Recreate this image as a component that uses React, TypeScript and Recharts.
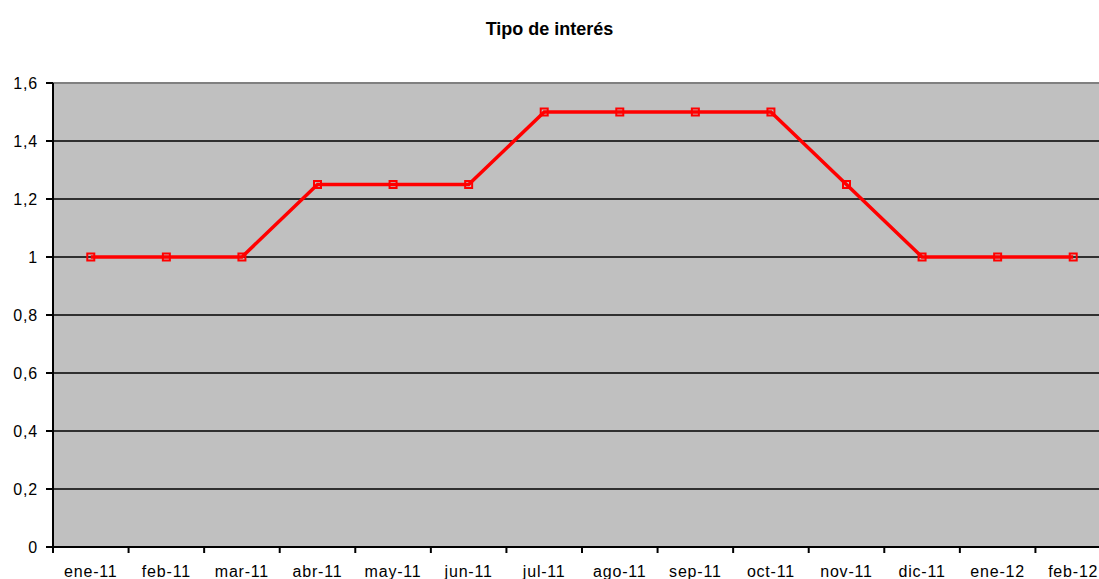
import React from "react";
import { LineChart, Line, XAxis, YAxis, CartesianGrid, ReferenceLine } from "recharts";

const months = ["ene-11","feb-11","mar-11","abr-11","may-11","jun-11","jul-11","ago-11","sep-11","oct-11","nov-11","dic-11","ene-12","feb-12"];
const rates = [1, 1, 1, 1.25, 1.25, 1.25, 1.5, 1.5, 1.5, 1.5, 1.25, 1, 1, 1];
const yTicks = [0, 0.2, 0.4, 0.6, 0.8, 1, 1.2, 1.4, 1.6];
const title = "Tipo de interés";

const data = months.map((m, i) => ({ month: m, rate: rates[i] }));

const FONT = "'Liberation Sans', Arial, sans-serif";

const XTick = (props: any) => {
  const { x, y, payload, index } = props;
  const half = payload && payload.offset ? payload.offset : 37.8;
  return (
    <g>
      <line x1={x - half} x2={x - half} y1={y - 8} y2={y - 2} stroke="#000" strokeWidth={2} />
      {index === months.length - 1 && (
        <line x1={x + half} x2={x + half} y1={y - 8} y2={y - 2} stroke="#000" strokeWidth={2} />
      )}
      <text x={x} y={y + 22} textAnchor="middle" fontFamily={FONT} fontSize={16} letterSpacing={0.8} fill="#000">
        {payload.value}
      </text>
    </g>
  );
};

const SquareDot = (props: any) => {
  const { cx, cy, index } = props;
  if (cx == null || cy == null) return null;
  return <rect key={`d${index}`} x={cx - 3.5} y={cy - 3.5} width={7} height={7} fill="none" stroke="#FF0000" strokeWidth={2} />;
};

export default function App() {
  return (
    <div style={{ position: "absolute", left: 0, top: 0, width: 1099, height: 579, overflow: "hidden", background: "#fff" }}>
      <div style={{ position: "absolute", left: 0, width: 1099, top: 19, textAlign: "center", fontFamily: FONT, fontWeight: "bold", fontSize: 18 }}>
        {title}
      </div>
      <LineChart width={1120} height={579} data={data} margin={{ top: 83, right: 9, bottom: 0, left: 0 }}>
        <CartesianGrid horizontal vertical={false} stroke="#000" strokeWidth={1.6} fill="#C0C0C0" fillOpacity={1} />
        <XAxis
          dataKey="month"
          scale="band"
          height={32}
          axisLine={{ stroke: "#000", strokeWidth: 2 }}
          tickLine={false}
          tick={<XTick />}
          interval={0}
        />
        <YAxis
          width={53}
          domain={[0, 1.6]}
          ticks={yTicks}
          interval={0}
          axisLine={{ stroke: "#000", strokeWidth: 2 }}
          tickLine={{ stroke: "#000", strokeWidth: 2 }}
          tickSize={7}
          tickMargin={8}
          tick={{ fontFamily: FONT, fontSize: 16, fill: "#000", letterSpacing: 0.8 }}
          tickFormatter={(v: number) => String(v).replace(".", ",")}
        />
        <ReferenceLine y={1.6} stroke="#808080" strokeWidth={2} />
        <Line
          type="linear"
          dataKey="rate"
          stroke="#FF0000"
          strokeWidth={3.5}
          dot={<SquareDot />}
          activeDot={false}
          isAnimationActive={false}
        />
      </LineChart>
    </div>
  );
}
